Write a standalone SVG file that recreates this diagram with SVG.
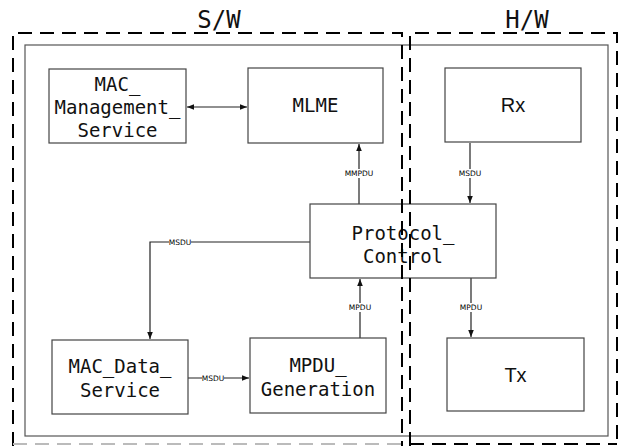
<svg xmlns="http://www.w3.org/2000/svg" width="622" height="448" viewBox="0 0 622 448">
<defs>
<style>
.box{fill:#fff;stroke:#444;stroke-width:1.2}
.dash{fill:none;stroke:#000;stroke-width:2;stroke-dasharray:14 8}
.inner{fill:none;stroke:#555;stroke-width:1.2}
.t{font-family:"DejaVu Sans Mono","Liberation Mono",monospace;font-size:19px;fill:#111;text-anchor:middle}
.s{font-family:"Liberation Sans",Arial,sans-serif;font-size:20px;fill:#111;text-anchor:middle}
.title{font-family:"DejaVu Sans Mono","Liberation Mono",monospace;font-size:24px;fill:#111;text-anchor:middle}
.lbl{font-family:"DejaVu Sans",sans-serif;font-size:7.5px;fill:#000;text-anchor:middle}
.bg{fill:#fff}
.c{fill:none;stroke:#222;stroke-width:1.2}
</style>
<marker id="a" viewBox="0 0 10 10" refX="10" refY="5" markerWidth="7" markerHeight="7" orient="auto-start-reverse" markerUnits="userSpaceOnUse">
<path d="M0,1 L10,5 L0,9 z" fill="#111"/>
</marker>
</defs>
<rect width="622" height="448" fill="#fff"/>
<rect class="inner" x="25" y="45" width="583" height="391"/>
<g id="connectors">
<path class="c" d="M187,107 H247" marker-start="url(#a)" marker-end="url(#a)"/>
<path class="c" d="M359,204 V144" marker-end="url(#a)"/>
<rect class="bg" x="345" y="169" width="28" height="9"/>
<text class="lbl" x="359" y="176">MMPDU</text>
<path class="c" d="M470,143 V203" marker-end="url(#a)"/>
<rect class="bg" x="459" y="169" width="22" height="9"/>
<text class="lbl" x="470" y="176">MSDU</text>
<path class="c" d="M310,242 H150 V339" marker-end="url(#a)"/>
<rect class="bg" x="169" y="238" width="22" height="9"/>
<text class="lbl" x="180" y="245">MSDU</text>
<path class="c" d="M360,338 V279" marker-end="url(#a)"/>
<rect class="bg" x="349" y="303" width="22" height="9"/>
<text class="lbl" x="360" y="310">MPDU</text>
<path class="c" d="M471,278 V337" marker-end="url(#a)"/>
<rect class="bg" x="460" y="303" width="22" height="9"/>
<text class="lbl" x="471" y="310">MPDU</text>
<path class="c" d="M188,378 H249" marker-end="url(#a)"/>
<rect class="bg" x="202" y="374" width="22" height="9"/>
<text class="lbl" x="213" y="381">MSDU</text>
</g>
<g id="mac_management_service">
<rect class="box" x="49" y="69" width="137" height="74"/>
<text class="t" x="117.5" y="91">MAC_</text>
<text class="t" x="117.5" y="114">Management_</text>
<text class="t" x="117.5" y="137">Service</text>
</g>
<g id="mlme">
<rect class="box" x="248" y="68" width="135" height="75"/>
<text class="t" x="315.5" y="112">MLME</text>
</g>
<g id="rx">
<rect class="box" x="445" y="68" width="136" height="74"/>
<text class="s" x="513" y="112">Rx</text>
</g>
<g id="protocol_control">
<rect class="box" x="310" y="204" width="186" height="74"/>
<text class="t" x="403" y="240">Protocol_</text>
<text class="t" x="403" y="263">Control</text>
</g>
<g id="mac_data_service">
<rect class="box" x="52" y="340" width="136" height="74"/>
<text class="t" x="120" y="373">MAC_Data_</text>
<text class="t" x="120" y="397">Service</text>
</g>
<g id="mpdu_generation">
<rect class="box" x="250" y="338" width="136" height="75"/>
<text class="t" x="318" y="372">MPDU_</text>
<text class="t" x="318" y="396">Generation</text>
</g>
<g id="tx">
<rect class="box" x="447" y="338" width="137" height="73"/>
<text class="s" x="515.5" y="382">Tx</text>
</g>
<g id="frames">
<path class="dash" d="M13,446 V33 H402 V446"/>
<path class="dash" d="M410,446 V33 H617 V446"/>
<path class="dash" d="M410,444 H617"/>
<path d="M13,444 H402" fill="none" stroke="#bbb" stroke-width="2" stroke-dasharray="14 8"/>
<text class="title" x="219" y="28">S/W</text>
<text class="title" x="527" y="28">H/W</text>
</g>
</svg>
